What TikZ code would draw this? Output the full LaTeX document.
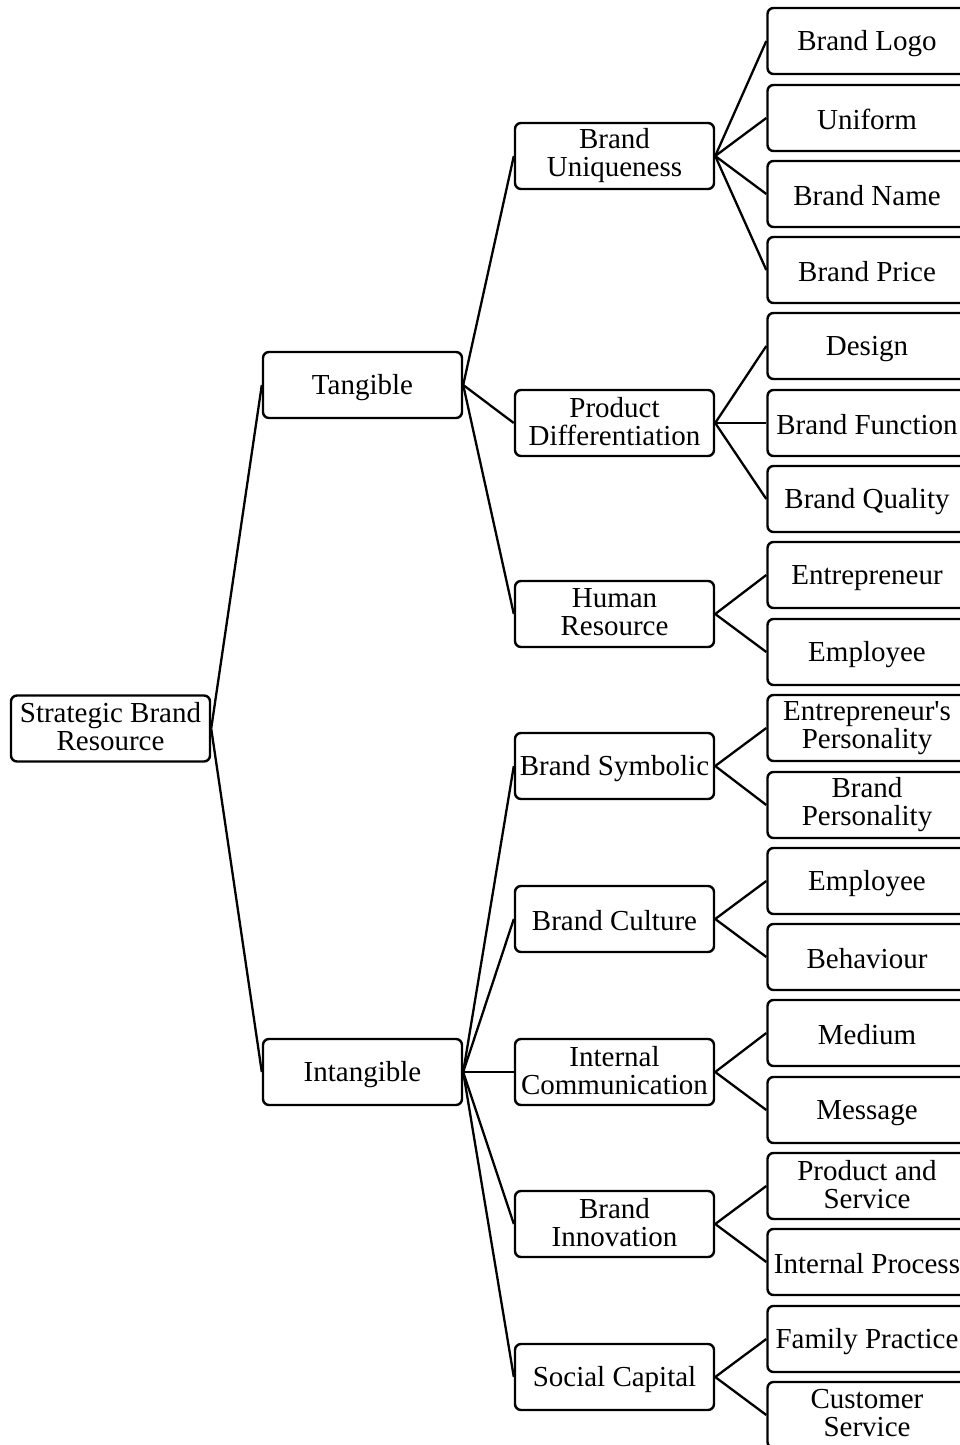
\documentclass[tikz,border=0pt]{standalone}
\usepackage{fontspec}
\setmainfont{Liberation Serif}

\tikzset{
	res/.style={draw, line width=2.4pt, rounded corners=6pt, align=center, inner sep=0pt,
		minimum width=199pt, minimum height=66pt, font=\fontsize{29}{28}\selectfont,
		execute at begin node={\rule{0pt}{26pt}},
		execute at end node={\rule[-4pt]{0pt}{4pt}}},
	link/.style={line width=2.3pt}
}

\begin{document}
\begin{tikzpicture}[x=1pt, y=-1pt]
				% Frame
				\useasboundingbox (0,0) rectangle (960,1445);
				\clip (0,0) rectangle (960,1445);
				\fill[white] (0,0) rectangle (960,1445);

				% Root
				\node[res] (sbr) at (110.5,728.5) {Strategic Brand\\Resource};

				% Level 1
				\node[res] (tan) at (362.5,385) {Tangible};
				\node[res] (intan) at (362.5,1072) {Intangible};

				% Level 2
				\node[res] (uniq) at (614.5,156) {Brand\\Uniqueness};
				\node[res] (diff) at (614.5,423) {Product\\Differentiation};
				\node[res] (human) at (614.5,614) {Human\\Resource};
				\node[res] (symb) at (614.5,766) {Brand Symbolic};
				\node[res] (cult) at (614.5,919) {Brand Culture};
				\node[res] (comm) at (614.5,1072) {Internal\\Communication};
				\node[res] (innov) at (614.5,1224) {Brand\\Innovation};
				\node[res] (social) at (614.5,1377) {Social Capital};

				% Level 3
				\node[res] (logo) at (867,41) {Brand Logo};
				\node[res] (unif) at (867,118) {Uniform};
				\node[res] (name) at (867,194) {Brand Name};
				\node[res] (price) at (867,270) {Brand Price};
				\node[res] (design) at (867,346) {Design};
				\node[res] (func) at (867,423) {Brand Function};
				\node[res] (qual) at (867,499) {Brand Quality};
				\node[res] (entr) at (867,575) {Entrepreneur};
				\node[res] (empl) at (867,652) {Employee};
				\node[res] (epers) at (867,728) {Entrepreneur\textquotesingle s\\Personality};
				\node[res] (bpers) at (867,805) {Brand\\Personality};
				\node[res] (emplb) at (867,881) {Employee};
				\node[res] (behav) at (867,957) {Behaviour};
				\node[res] (medium) at (867,1033) {Medium};
				\node[res] (msg) at (867,1110) {Message};
				\node[res] (prod) at (867,1186) {Product and\\Service};
				\node[res] (proc) at (867,1262) {Internal Process};
				\node[res] (family) at (867,1339) {Family Practice};
				\node[res] (cust) at (867,1415) {Customer\\Service};

				% Root links
				\draw[link] (sbr.east) -- (tan.west);
				\draw[link] (sbr.east) -- (intan.west);

				% Tangible links
				\draw[link] (tan.east) -- (uniq.west);
				\draw[link] (tan.east) -- (diff.west);
				\draw[link] (tan.east) -- (human.west);

				% Intangible links
				\draw[link] (intan.east) -- (symb.west);
				\draw[link] (intan.east) -- (cult.west);
				\draw[link] (intan.east) -- (comm.west);
				\draw[link] (intan.east) -- (innov.west);
				\draw[link] (intan.east) -- (social.west);

				% Level 3 links
				\draw[link] (uniq.east) -- (logo.west);
				\draw[link] (uniq.east) -- (unif.west);
				\draw[link] (uniq.east) -- (name.west);
				\draw[link] (uniq.east) -- (price.west);
				\draw[link] (diff.east) -- (design.west);
				\draw[link] (diff.east) -- (func.west);
				\draw[link] (diff.east) -- (qual.west);
				\draw[link] (human.east) -- (entr.west);
				\draw[link] (human.east) -- (empl.west);
				\draw[link] (symb.east) -- (epers.west);
				\draw[link] (symb.east) -- (bpers.west);
				\draw[link] (cult.east) -- (emplb.west);
				\draw[link] (cult.east) -- (behav.west);
				\draw[link] (comm.east) -- (medium.west);
				\draw[link] (comm.east) -- (msg.west);
				\draw[link] (innov.east) -- (prod.west);
				\draw[link] (innov.east) -- (proc.west);
				\draw[link] (social.east) -- (family.west);
				\draw[link] (social.east) -- (cust.west);
\end{tikzpicture}
\end{document}
